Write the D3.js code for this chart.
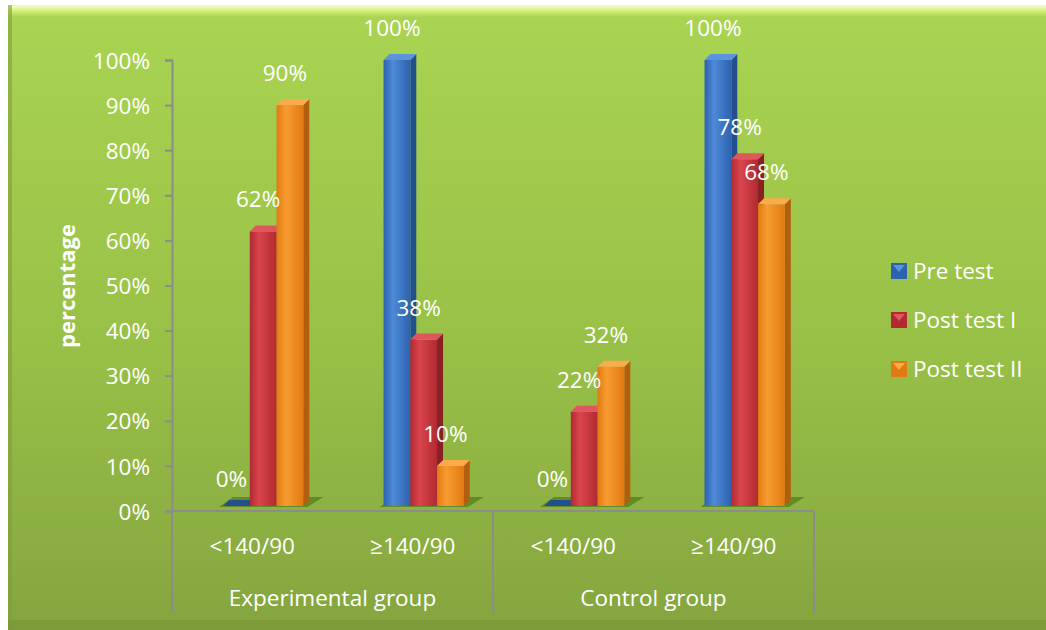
<!DOCTYPE html>
<html>
<head>
<meta charset="utf-8">
<script src="https://cdn.jsdelivr.net/npm/d3@7"></script>
<style>
  html, body { margin: 0; padding: 0; background: #ffffff; }
  svg { display: block; }
  text { font-family: "Open Sans", "Noto Sans", sans-serif; fill: #ffffff; }
</style>
</head>
<body>
<svg id="chart" width="1046" height="630"></svg>
<script>
// Blood pressure categories per group and test
const groups = ["Experimental group", "Control group"];
const categories = ["<140/90", "≥140/90", "<140/90", "≥140/90"];
const series = ["Pre test", "Post test I", "Post test II"];
const preTest = [0, 100, 0, 100];
const postTest1 = [62, 38, 22, 78];
const postTest2 = [90, 10, 32, 68];
const yTicks = [0, 10, 20, 30, 40, 50, 60, 70, 80, 90, 100];

const values = [preTest, postTest1, postTest2];
const palette = [
  { light: "#4d8ad8", dark: "#2d62b0", side: "#244f8e", top: "#5a94dc" },
  { light: "#da454d", dark: "#b12a31", side: "#8a1f24", top: "#e0565d" },
  { light: "#f89c30", dark: "#e07a12", side: "#b35e0e", top: "#fbab4a" }
];
const fontSize = "22.5px";

const svg = d3.select("#chart");
const W = 1046, H = 630;
const defs = svg.append("defs");

// panel background
const bg = defs.append("linearGradient").attr("id", "bg").attr("x1", 0).attr("y1", 0).attr("x2", 0).attr("y2", 1);
bg.append("stop").attr("offset", "0%").attr("stop-color", "#aad452");
bg.append("stop").attr("offset", "55%").attr("stop-color", "#98c047");
bg.append("stop").attr("offset", "100%").attr("stop-color", "#85a53f");

const bevelTop = defs.append("linearGradient").attr("id", "bevelTop").attr("x1", 0).attr("y1", 0).attr("x2", 0).attr("y2", 1);
bevelTop.append("stop").attr("offset", "0%").attr("stop-color", "#f4fbd8");
bevelTop.append("stop").attr("offset", "45%").attr("stop-color", "#d9f27c");
bevelTop.append("stop").attr("offset", "100%").attr("stop-color", "#aad452");

palette.forEach((p, i) => {
  const g = defs.append("linearGradient").attr("id", "front" + i).attr("x1", 0).attr("y1", 0).attr("x2", 1).attr("y2", 0);
  g.append("stop").attr("offset", "0%").attr("stop-color", p.dark);
  g.append("stop").attr("offset", "35%").attr("stop-color", p.light);
  g.append("stop").attr("offset", "100%").attr("stop-color", p.dark);
});

svg.append("rect").attr("x", 8).attr("y", 5).attr("width", W - 8).attr("height", H - 5).attr("fill", "url(#bg)");
svg.append("rect").attr("x", 8).attr("y", 5).attr("width", W - 8).attr("height", 12).attr("fill", "url(#bevelTop)");
svg.append("rect").attr("x", 8).attr("y", 5).attr("width", 4).attr("height", H - 5).attr("fill", "#7f9e3a").attr("opacity", 0.6);
svg.append("rect").attr("x", 8).attr("y", H - 10).attr("width", W - 8).attr("height", 10).attr("fill", "#7b9837").attr("opacity", 0.8);

// scales
const plotLeft = 172, plotRight = 814, plotTop = 60, plotBottom = 511;
const x0 = d3.scaleBand().domain(d3.range(categories.length)).range([plotLeft, plotRight]);
const cw = x0.bandwidth();
const x1 = d3.scaleBand().domain(d3.range(series.length)).range([cw * 0.318, cw * 0.818]);
const y = d3.scaleLinear().domain([0, 100]).range([plotBottom, plotTop]);

const axisColor = "#8c8c8c";

// value axis
const yAxis = svg.append("g").attr("transform", `translate(${plotLeft},0)`)
  .call(d3.axisLeft(y).tickValues(yTicks).tickFormat(d => d + "%").tickSize(7).tickPadding(15));
yAxis.select(".domain").attr("stroke", axisColor).attr("stroke-width", 2);
yAxis.selectAll(".tick line").attr("stroke", axisColor).attr("stroke-width", 2);
yAxis.selectAll(".tick text").attr("fill", "#fff").style("font-size", fontSize)
  .attr("font-family", "'Open Sans', 'Noto Sans', sans-serif").attr("dy", "0.36em");

// category axis
svg.append("line").attr("x1", plotLeft).attr("x2", plotRight).attr("y1", plotBottom).attr("y2", plotBottom)
  .attr("stroke", axisColor).attr("stroke-width", 2);
[plotLeft, x0(2), plotRight].forEach(xv => {
  svg.append("line").attr("x1", xv).attr("x2", xv).attr("y1", plotBottom).attr("y2", 613)
    .attr("stroke", axisColor).attr("stroke-width", 2);
});

svg.append("g").selectAll("text").data(categories).join("text")
  .attr("x", (d, i) => x0(i) + cw / 2).attr("y", 554)
  .attr("text-anchor", "middle").style("font-size", fontSize).text(d => d);

svg.append("g").selectAll("text").data(groups).join("text")
  .attr("x", (d, i) => x0(i * 2) + cw).attr("y", 606)
  .attr("text-anchor", "middle").style("font-size", fontSize).text(d => d);

// axis title
svg.append("text").attr("transform", "translate(75,286) rotate(-90)")
  .attr("text-anchor", "middle").style("font-size", "22px").style("font-weight", "bold").text("percentage");

// 3D bars
const dx = 6, dy = 6;
const base = y(0) - 5;
const barsG = svg.append("g");

// floor shadows under each cluster
categories.forEach((c, ci) => {
  const xs = x0(ci) + x1(0) - 4;
  const xe = x0(ci) + x1(series.length - 1) + x1.bandwidth() + 4;
  barsG.append("polygon")
    .attr("points", [[xs, base + 1], [xe, base + 1], [xe + dx + 10, base - dy - 3], [xs + dx + 8, base - dy - 3]].map(p => p.join(",")).join(" "))
    .attr("fill", "#5a8420").attr("opacity", 0.85);
});

categories.forEach((c, ci) => {
  series.forEach((s, si) => {
    const v = values[si][ci];
    const x = x0(ci) + x1(si);
    const w = x1.bandwidth();
    const top = Math.min(y(v), base);
    const p = palette[si];
    const g = barsG.append("g");
    // right side
    g.append("polygon")
      .attr("points", [[x + w, top], [x + w + dx, top - dy], [x + w + dx, base - dy], [x + w, base]].map(q => q.join(",")).join(" "))
      .attr("fill", p.side);
    // front
    g.append("rect").attr("x", x).attr("y", top).attr("width", w).attr("height", base - top)
      .attr("fill", `url(#front${si})`);
    // top
    g.append("polygon")
      .attr("points", [[x, top], [x + w, top], [x + w + dx, top - dy], [x + dx, top - dy]].map(q => q.join(",")).join(" "))
      .attr("fill", v === 0 ? p.side : p.top);
  });
});

// data labels
categories.forEach((c, ci) => {
  series.forEach((s, si) => {
    const v = values[si][ci];
    svg.append("text")
      .attr("x", x0(ci) + x1(si) + x1.bandwidth() / 2 - 5)
      .attr("y", y(v) - 24)
      .attr("text-anchor", "middle").style("font-size", fontSize)
      .text(v + "%");
  });
});

// legend
const legend = svg.append("g").attr("transform", "translate(891,263)");
series.forEach((s, i) => {
  const g = legend.append("g").attr("transform", `translate(0,${i * 49})`);
  g.append("rect").attr("width", 16).attr("height", 16).attr("fill", palette[i].dark);
  g.append("polygon").attr("points", "2,2 14,2 8,9").attr("fill", palette[i].top);
  g.append("text").attr("x", 22).attr("y", 16).style("font-size", fontSize).text(s);
});
</script>
</body>
</html>
